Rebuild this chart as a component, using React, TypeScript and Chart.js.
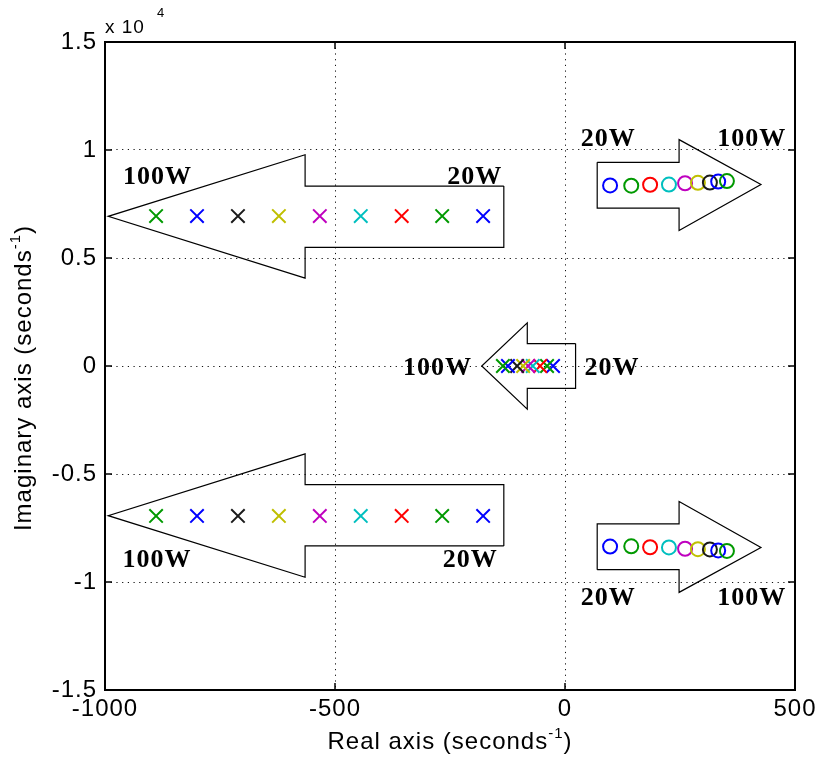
import React, { useEffect, useRef } from 'react';
import { Chart, registerables } from 'chart.js';

Chart.register(...registerables);

// Power levels, 20 W to 100 W, and the colour used for each level
const powerLevels = ['20W', '30W', '40W', '50W', '60W', '70W', '80W', '90W', '100W'];
const markerColors = ['#0000ff', '#009900', '#ff0000', '#00bfbf', '#bf00bf', '#bfbf00', '#1a1a1a', '#0000ff', '#009900'];

// Complex pole pair (real part, imaginary part) per power level
const polePairRe = [-178, -267, -355, -444, -533, -622, -711, -800, -889];
const polePairIm = [6940, 6940, 6940, 6940, 6940, 6940, 6940, 6940, 6940];

// Real pole per power level
const realPole = [-26, -39, -54, -70, -80, -91, -104, -124, -135];

// Complex zero pair per power level
const zeroPairRe = [98, 144, 185, 226, 261, 289, 315, 333, 352];
const zeroPairIm = [8360, 8350, 8390, 8400, 8460, 8480, 8490, 8540, 8560];

// Axis ticks
const xTicks = [-1000, -500, 0, 500];
const yTicks = [-15000, -10000, -5000, 0, 5000, 10000, 15000];

// Arrow outlines showing the direction of increasing power (data units)
const arrowUpperLeft = [[-133, 8330], [-565, 8330], [-565, 9780], [-993, 6930], [-565, 4070], [-565, 5490], [-133, 5490], [-133, 8330]];
const arrowLowerLeft = [[-133, -8330], [-565, -8330], [-565, -9780], [-993, -6930], [-565, -4070], [-565, -5490], [-133, -5490], [-133, -8330]];
const arrowCentre = [[23, 1040], [-82, 1040], [-82, 2000], [-181, 0], [-82, -2000], [-82, -1040], [23, -1040], [23, 1040]];
const arrowUpperRight = [[70, 9430], [248, 9430], [248, 10480], [426, 8400], [248, 6270], [248, 7310], [70, 7310], [70, 9430]];
const arrowLowerRight = [[70, -9430], [248, -9430], [248, -10480], [426, -8400], [248, -6270], [248, -7310], [70, -7310], [70, -9430]];

// Arrow end labels
const arrowLabelText = ['100W', '20W', '20W', '100W', '100W', '20W', '100W', '20W', '20W', '100W'];
const arrowLabelX = [-886, -196, 94, 406, -277, 102, -887, -206, 94, 406];
const arrowLabelY = [8860, 8860, 10580, 10580, 0, 0, -8900, -8900, -10640, -10640];

const SANS = '"Liberation Sans", Arial, sans-serif';

const toPoints = (pts: number[][]) => pts.map(([x, y]) => ({ x, y }));

const outline = (pts: number[][]) => ({
  data: toPoints(pts),
  showLine: true,
  borderColor: '#000',
  borderWidth: 1.2,
  pointRadius: 0,
  fill: false,
  tension: 0,
  order: 10,
});

function drawSupText(
  ctx: CanvasRenderingContext2D,
  parts: { text: string; sup?: boolean }[],
  cx: number,
  baseline: number,
  size: number,
) {
  const font = (s: number) => `${s}px ${SANS}`;
  const supSize = Math.round(size * 0.62);
  let total = 0;
  for (const p of parts) {
    ctx.font = font(p.sup ? supSize : size);
    total += ctx.measureText(p.text).width;
  }
  let x = cx - total / 2;
  ctx.textAlign = 'left';
  ctx.textBaseline = 'alphabetic';
  for (const p of parts) {
    ctx.font = font(p.sup ? supSize : size);
    ctx.fillText(p.text, x, p.sup ? baseline - size * 0.45 : baseline);
    x += ctx.measureText(p.text).width;
  }
}

// Slightly looser letter spacing for every text drawn on the canvas
const spacing = {
  id: 'spacing',
  beforeDraw(chart: any) {
    (chart.ctx as any).letterSpacing = '1px';
  },
};

const decorations = {
  id: 'decorations',
  afterDatasetsDraw(chart: any) {
    const { ctx, chartArea: a, scales } = chart;
    const xs = scales.x;
    const ys = scales.y;
    ctx.save();
    (ctx as any).letterSpacing = '1px';

    // arrow end labels
    ctx.fillStyle = '#000';
    ctx.font = 'bold 26px "Liberation Serif", "Times New Roman", serif';
    ctx.textAlign = 'center';
    ctx.textBaseline = 'alphabetic';
    arrowLabelText.forEach((t, i) => {
      const px = xs.getPixelForValue(arrowLabelX[i]);
      const py = ys.getPixelForValue(arrowLabelY[i]);
      ctx.fillText(t, px, py + 9);
    });

    // box
    ctx.strokeStyle = '#000';
    ctx.lineWidth = 2;
    ctx.strokeRect(a.left, a.top, a.right - a.left, a.bottom - a.top);

    // inward tick marks on all four sides
    const len = 7;
    ctx.lineWidth = 1.5;
    ctx.beginPath();
    for (const v of xTicks) {
      const px = xs.getPixelForValue(v);
      ctx.moveTo(px, a.bottom);
      ctx.lineTo(px, a.bottom - len);
      ctx.moveTo(px, a.top);
      ctx.lineTo(px, a.top + len);
    }
    for (const v of yTicks) {
      const py = ys.getPixelForValue(v);
      ctx.moveTo(a.left, py);
      ctx.lineTo(a.left + len, py);
      ctx.moveTo(a.right, py);
      ctx.lineTo(a.right - len, py);
    }
    ctx.stroke();

    // exponent of the vertical axis
    ctx.fillStyle = '#000';
    ctx.textAlign = 'left';
    ctx.font = `19px ${SANS}`;
    ctx.fillText('x 10', a.left, a.top - 9);
    const w = ctx.measureText('x 10').width;
    ctx.font = `13px ${SANS}`;
    ctx.fillText('4', a.left + w + 12, a.top - 25);

    // axis titles
    const cx = (a.left + a.right) / 2;
    drawSupText(ctx, [{ text: 'Real axis (seconds' }, { text: '-1', sup: true }, { text: ')' }], cx, a.bottom + 59, 24);

    ctx.save();
    ctx.translate(31, 378);
    ctx.rotate(-Math.PI / 2);
    drawSupText(ctx, [{ text: 'Imaginary axis (seconds' }, { text: '-1', sup: true }, { text: ')' }], 0, 0, 24);
    ctx.restore();

    ctx.restore();
  },
};

export default function App() {
  const ref = useRef<HTMLCanvasElement>(null);

  useEffect(() => {
    const canvas = ref.current;
    if (!canvas) return;

    const crossStyle = {
      pointStyle: 'crossRot',
      pointRadius: 9.5,
      pointBorderWidth: 2,
      pointBorderColor: markerColors,
      pointBackgroundColor: markerColors,
      showLine: false,
      order: 1,
    };
    const circleStyle = {
      pointStyle: 'circle',
      pointRadius: 7,
      pointBorderWidth: 2,
      pointBorderColor: markerColors,
      pointBackgroundColor: 'rgba(0,0,0,0)',
      showLine: false,
      order: 1,
    };

    const chart = new Chart(canvas, {
      type: 'scatter',
      data: {
        datasets: [
          outline(arrowUpperLeft),
          outline(arrowLowerLeft),
          outline(arrowCentre),
          outline(arrowUpperRight),
          outline(arrowLowerRight),
          { label: 'poles (upper)', data: polePairRe.map((x, i) => ({ x, y: polePairIm[i] })), ...crossStyle },
          { label: 'poles (lower)', data: polePairRe.map((x, i) => ({ x, y: -polePairIm[i] })), ...crossStyle },
          { label: 'real pole', data: realPole.map((x) => ({ x, y: 0 })), ...crossStyle },
          { label: 'zeros (upper)', data: zeroPairRe.map((x, i) => ({ x, y: zeroPairIm[i] })), ...circleStyle },
          { label: 'zeros (lower)', data: zeroPairRe.map((x, i) => ({ x, y: -zeroPairIm[i] })), ...circleStyle },
        ] as any,
      },
      options: {
        animation: false,
        responsive: false,
        devicePixelRatio: 1,
        events: [],
        layout: { padding: { top: 42, right: 26, left: 0, bottom: 0 } },
        plugins: {
          legend: { display: false },
          tooltip: { enabled: false },
        },
        scales: {
          x: {
            type: 'linear',
            min: -1000,
            max: 500,
            afterBuildTicks: (s: any) => {
              s.ticks = xTicks.map((value) => ({ value }));
            },
            afterFit: (s: any) => {
              s.height = 83;
            },
            ticks: {
              color: '#000',
              font: { family: SANS, size: 24 },
              padding: 5,
              maxRotation: 0,
              autoSkip: false,
              callback: (v: any) => String(v),
            },
            grid: { color: '#111', lineWidth: 1, drawTicks: false },
            border: { display: false, dash: [1.2, 4.5] },
          },
          y: {
            type: 'linear',
            min: -15000,
            max: 15000,
            afterBuildTicks: (s: any) => {
              s.ticks = yTicks.map((value) => ({ value }));
            },
            afterFit: (s: any) => {
              s.width = 105;
            },
            ticks: {
              color: '#000',
              font: { family: SANS, size: 24 },
              padding: 8,
              autoSkip: false,
              callback: (v: any) => String(Number(v) / 10000),
            },
            grid: { color: '#111', lineWidth: 1, drawTicks: false },
            border: { display: false, dash: [1.2, 4.5] },
          },
        },
      } as any,
      plugins: [spacing, decorations],
    });

    return () => chart.destroy();
  }, []);

  return (
    <div style={{ position: 'absolute', left: 0, top: 0, width: 821, height: 773, background: '#fff' }}>
      <canvas ref={ref} width={821} height={773} style={{ display: 'block', width: 821, height: 773 }} />
    </div>
  );
}
